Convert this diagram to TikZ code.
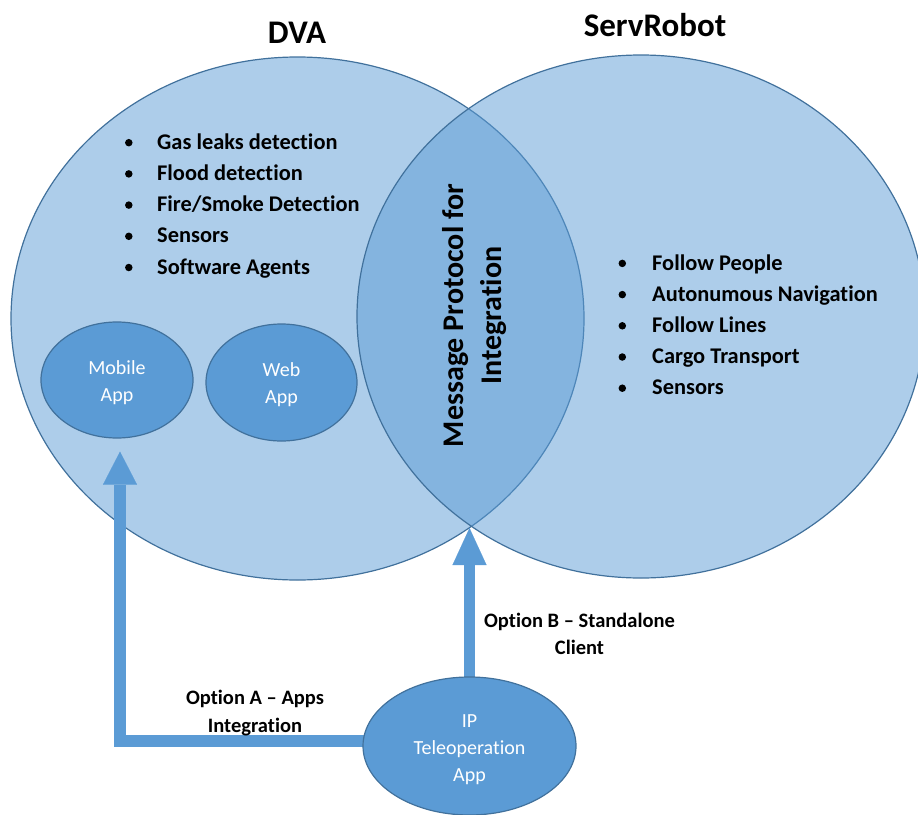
\documentclass[tikz,border=0pt]{standalone}
\usepackage{fontspec}
\setmainfont{Carlito}[RawFeature=-liga, RawFeature=-clig, RawFeature=-calt, RawFeature=-dlig]
\usetikzlibrary{shapes.geometric,arrows.meta,calc}
\pgfdeclarelayer{front}
\pgfsetlayers{main,front}
\definecolor{setfill}{HTML}{5B9BD5}
\definecolor{setline}{HTML}{41719C}

\begin{document}
\begin{tikzpicture}[x=1pt,y=-1pt,
  setarea/.style={ellipse, draw=setline, line width=1.2pt, fill=setfill,
    fill opacity=0.5, inner sep=0pt, outer sep=0pt},
  appnode/.style={ellipse, draw=setline, line width=1.2pt, fill=setfill,
    text=white, inner sep=0pt, align=center,
    font=\fontsize{20}{27}\selectfont},
  title/.style={font=\fontsize{33}{40}\selectfont\bfseries, anchor=base, inner sep=0pt},
  item/.style={font=\fontsize{22.4}{28}\selectfont\bfseries, anchor=base west, inner sep=0pt},
  dot/.style={circle, fill=black, inner sep=0pt, minimum size=7.5pt},
  option/.style={font=\fontsize{20.5}{27.5}\selectfont\bfseries, align=center, inner sep=0pt},
  flow/.style={draw=setfill, line width=11.5pt, line join=miter,
    -{Triangle[length=#1,width=34pt,line width=0.1pt]}}
]
\clip (0,0) rectangle (918,814);

% the two sets
\node[setarea, minimum width=573pt, minimum height=523pt] (dva) at (297.5,318.5) {};
\node[setarea, minimum width=568pt, minimum height=523pt] (servrobot) at (641,316.5) {};

\node[title] (dva title) at (297,43.3) {DVA};
\node[title] (servrobot title) at (655,36.7) {ServRobot};

% feature lists
\foreach \t [count=\i] in {Gas leaks detection, Flood detection,
    Fire/Smoke Detection, Sensors, Software Agents} {
  \node[item] (dva item \i) at (157,{149.3+31.2*(\i-1)}) {\t};
  \node[dot] (dva dot \i) at (128.8,{142.7+31.2*(\i-1)}) {};
}
\foreach \t [count=\i] in {Follow People, Autonumous Navigation,
    Follow Lines, Cargo Transport, Sensors} {
  \node[item] (robot item \i) at (652,{270+31.2*(\i-1)}) {\t};
  \node[dot] (robot dot \i) at (622.3,{263.4+31.2*(\i-1)}) {};
}

% shared protocol in the overlap
\node[rotate=90, font=\fontsize{30}{38}\selectfont\bfseries, align=center]
  (protocol) at (475,315.5) {Message Protocol for\\Integration};

% apps (a taller first line pushes the label a little below centre)
\node[appnode, minimum width=152pt, minimum height=116pt] (mobile) at (117,380)
  {\rule{0pt}{19pt}Mobile\\App};
\node[appnode, minimum width=151pt, minimum height=117pt] (web) at (281.5,382.5)
  {\rule{0pt}{19pt}Web\\App};

\begin{pgfonlayer}{front}
\node[appnode, minimum width=213pt, minimum height=138pt] (tele) at (469.5,746)
  {\rule{0pt}{20pt}IP\\Teleoperation\\App};
\end{pgfonlayer}

% integration options
\coordinate (lens bottom) at (470,528);
\draw[flow=33pt] ($(tele.center)+(0,-5)$) -| ($(mobile.south)+(3,13)$);
\draw[flow=37pt] (tele.center) -- (tele.center |- lens bottom);

\node[option] (option a) at (255,713) {Option A – Apps\\Integration};
\node[option] (option b) at (579.5,634) {Option B – Standalone\\Client};
\end{tikzpicture}
\end{document}
